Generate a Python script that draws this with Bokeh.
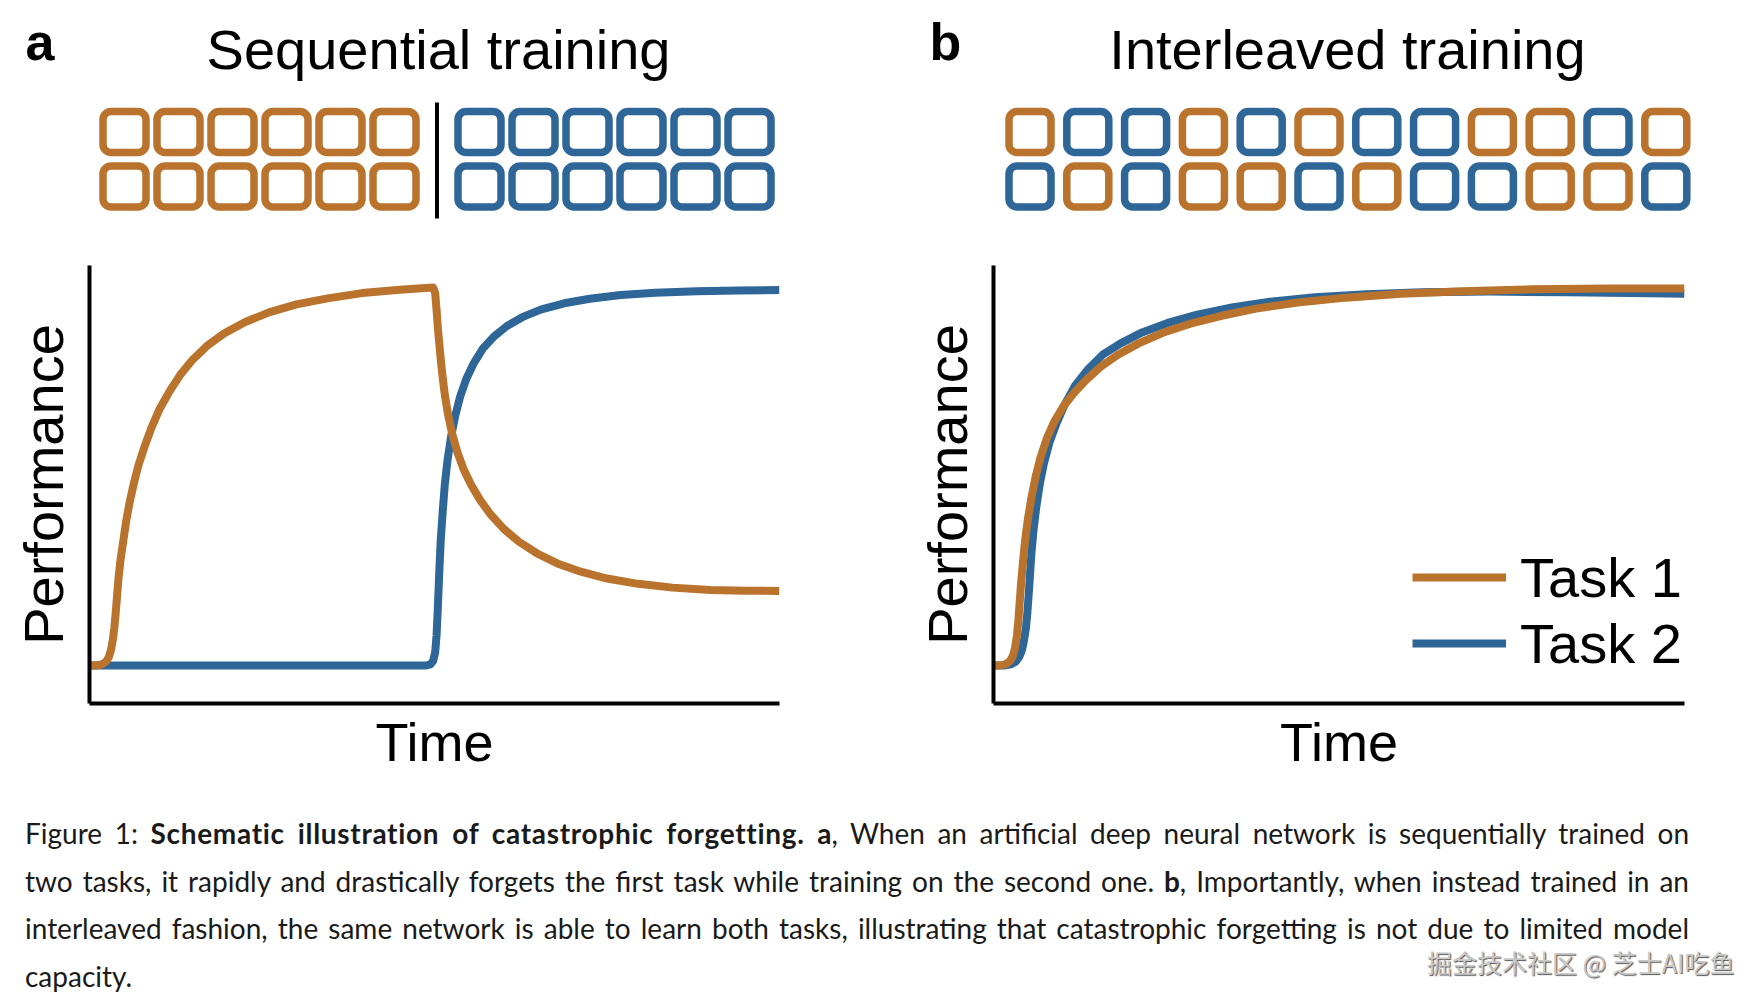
from bokeh.plotting import figure
from bokeh.models import Range1d, FixedTicker, Legend, LegendItem, Div
from bokeh.layouts import row, column
from bokeh.core.properties import value
from bokeh.embed import file_html
from bokeh.resources import INLINE

# ---------------- data ----------------
PANEL_LETTERS = ["a", "b"]
PANEL_TITLES = ["Sequential training", "Interleaved training"]
SERIES_NAMES = ["Task 1", "Task 2"]
X_LABEL = "Time"
Y_LABEL = "Performance"

# training schedules (1 = Task 1, 2 = Task 2), two rows of mini-batches
SEQ_ROW1 = [1, 1, 1, 1, 1, 1, 2, 2, 2, 2, 2, 2]
SEQ_ROW2 = [1, 1, 1, 1, 1, 1, 2, 2, 2, 2, 2, 2]
INT_ROW1 = [1, 2, 2, 1, 2, 1, 2, 2, 1, 1, 2, 1]
INT_ROW2 = [2, 1, 2, 1, 1, 2, 1, 2, 2, 1, 1, 2]

# sequential training curves (time 0..1, performance 0..1)
SEQ_T1_X = [0.000, 0.010, 0.018, 0.024, 0.028, 0.031, 0.034, 0.036, 0.038, 0.040, 0.042,
            0.045, 0.049, 0.053, 0.058, 0.064, 0.071, 0.080, 0.090, 0.102, 0.116, 0.132,
            0.150, 0.170, 0.195, 0.225, 0.260, 0.300, 0.345, 0.395, 0.450, 0.498,
            0.501, 0.503, 0.505, 0.508, 0.511, 0.515, 0.520, 0.526, 0.533, 0.542, 0.553,
            0.566, 0.581, 0.600, 0.622, 0.648, 0.678, 0.712, 0.750, 0.795, 0.845, 0.900,
            0.950, 1.000]
SEQ_T1_Y = [0.000, 0.000, 0.003, 0.010, 0.022, 0.040, 0.070, 0.100, 0.140, 0.185, 0.230,
            0.280, 0.330, 0.380, 0.430, 0.480, 0.530, 0.580, 0.630, 0.680, 0.725, 0.770,
            0.810, 0.845, 0.878, 0.908, 0.934, 0.955, 0.971, 0.985, 0.994, 1.000,
            0.985, 0.940, 0.890, 0.830, 0.775, 0.715, 0.660, 0.610, 0.565, 0.520, 0.478,
            0.438, 0.400, 0.362, 0.328, 0.297, 0.270, 0.248, 0.230, 0.216, 0.206, 0.200,
            0.198, 0.197]
SEQ_T2_X = [0.000, 0.488, 0.494, 0.498, 0.501, 0.503, 0.505, 0.507, 0.509, 0.512, 0.515,
            0.519, 0.524, 0.530, 0.537, 0.546, 0.557, 0.570, 0.586, 0.605, 0.628, 0.655,
            0.688, 0.725, 0.770, 0.820, 0.880, 0.940, 1.000]
SEQ_T2_Y = [0.000, 0.000, 0.003, 0.012, 0.035, 0.080, 0.160, 0.250, 0.330, 0.410, 0.480,
            0.545, 0.605, 0.660, 0.710, 0.758, 0.800, 0.838, 0.870, 0.898, 0.922, 0.942,
            0.958, 0.970, 0.980, 0.986, 0.990, 0.992, 0.993]

# interleaved training curves
INT_T1_X = [0.000, 0.010, 0.018, 0.024, 0.028, 0.031, 0.034, 0.036, 0.038, 0.040, 0.043,
            0.046, 0.050, 0.055, 0.061, 0.068, 0.077, 0.088, 0.101, 0.116, 0.134, 0.155,
            0.180, 0.210, 0.245, 0.285, 0.330, 0.380, 0.440, 0.510, 0.590, 0.680, 0.780,
            0.890, 1.000]
INT_T1_Y = [0.000, 0.000, 0.004, 0.012, 0.025, 0.045, 0.080, 0.120, 0.170, 0.220, 0.280,
            0.335, 0.390, 0.445, 0.500, 0.550, 0.600, 0.645, 0.685, 0.720, 0.755, 0.790,
            0.822, 0.852, 0.880, 0.904, 0.925, 0.944, 0.960, 0.973, 0.983, 0.990, 0.995,
            0.997, 0.997]
INT_T2_X = [0.000, 0.015, 0.025, 0.032, 0.037, 0.041, 0.044, 0.047, 0.049, 0.051, 0.053,
            0.055, 0.058, 0.062, 0.067, 0.073, 0.081, 0.091, 0.103, 0.118, 0.136, 0.158,
            0.184, 0.215, 0.252, 0.295, 0.345, 0.400, 0.465, 0.540, 0.620, 0.720, 0.830,
            0.920, 1.000]
INT_T2_Y = [0.000, 0.000, 0.003, 0.010, 0.022, 0.040, 0.065, 0.100, 0.140, 0.190, 0.245,
            0.300, 0.360, 0.420, 0.480, 0.535, 0.590, 0.640, 0.690, 0.740, 0.782, 0.822,
            0.852, 0.881, 0.906, 0.928, 0.947, 0.962, 0.974, 0.982, 0.987, 0.989, 0.987,
            0.985, 0.983]

CAPTION_LINES = [
    "Figure 1: <b>Schematic illustration of catastrophic forgetting.</b> <b>a</b>, When an artificial deep neural network is sequentially trained on",
    "two tasks, it rapidly and drastically forgets the first task while training on the second one. <b>b</b>, Importantly, when instead trained in an",
    "interleaved fashion, the same network is able to learn both tasks, illustrating that catastrophic forgetting is not due to limited model",
    "capacity.",
]
WATERMARK = "掘金技术社区 @ 芝士AI吃鱼"

# ---------------- style ----------------
ORANGE = "#B9732C"
BLUE = "#2E6698"
TASK_COLOR = {1: ORANGE, 2: BLUE}
FONT = "Liberation Sans"
HEADER_H = 240


def make_header(width, letter, title, letter_x, title_x, rows, x0, pitch, box_w, gap_after=None, gap=0):
    p = figure(width=width, height=HEADER_H, x_range=Range1d(0, width), y_range=Range1d(HEADER_H, 0),
               output_backend="svg", toolbar_location=None, tools="", min_border=0,
               x_axis_location=None, y_axis_location=None, frame_align=False)
    p.grid.visible = False
    p.outline_line_color = None
    p.background_fill_color = "white"
    p.border_fill_color = "white"

    p.text(x=[letter_x], y=[41], text=[letter], text_font=value(FONT), text_font_style="bold",
           text_font_size="52px", text_baseline="alphabetic", text_align="left", text_color="black")
    p.text(x=[title_x], y=[49], text=[title], text_font=value(FONT),
           text_font_size="56px", text_baseline="alphabetic", text_align="center", text_color="black")

    left, right, top, bottom, colors = [], [], [], [], []
    for r, seq in enumerate(rows):
        cy = 131.5 + 54.5 * r
        for c, task in enumerate(seq):
            cx = x0 + pitch * c + (gap if (gap_after is not None and c > gap_after) else 0)
            left.append(cx - box_w / 2)
            right.append(cx + box_w / 2)
            top.append(cy - 20.5)
            bottom.append(cy + 20.5)
            colors.append(TASK_COLOR[task])
    p.quad(left=left, right=right, top=top, bottom=bottom, fill_color="white",
           line_color=colors, line_width=7.5, border_radius=8)
    if gap_after is not None:
        xd = (right[gap_after] + left[gap_after + 1]) / 2
        p.segment(x0=[xd], y0=[102], x1=[xd], y1=[218], line_color="black", line_width=4)
    return p


def make_plot(t1x, t1y, t2x, t2y, border_left, frame_w, border_right, legend=False):
    p = figure(frame_width=frame_w, frame_height=438, min_border_left=border_left,
               min_border_right=border_right, min_border_top=25, min_border_bottom=105,
               x_range=Range1d(0, 1), y_range=Range1d(-0.1005, 1.058),
               output_backend="svg", toolbar_location=None, tools="", frame_align=False)
    p.grid.visible = False
    p.outline_line_color = None
    p.background_fill_color = "white"
    p.border_fill_color = "white"
    for ax, label, fs, standoff in ((p.xaxis[0], X_LABEL, "54px", 8), (p.yaxis[0], Y_LABEL, "56px", 15)):
        ax.ticker = FixedTicker(ticks=[])
        ax.axis_line_width = 4
        ax.axis_line_color = "black"
        ax.major_tick_line_color = None
        ax.minor_tick_line_color = None
        ax.major_tick_out = 0
        ax.major_tick_in = 0
        ax.major_label_standoff = 0
        ax.axis_label = label
        ax.axis_label_text_font = FONT
        ax.axis_label_text_font_style = "normal"
        ax.axis_label_text_font_size = fs
        ax.axis_label_text_color = "black"
        ax.axis_label_standoff = standoff
    r2 = p.line(t2x, t2y, line_color=BLUE, line_width=8, line_join="round")
    r1 = p.line(t1x, t1y, line_color=ORANGE, line_width=8, line_join="round")
    if legend:
        lg = Legend(items=[LegendItem(label=SERIES_NAMES[0], renderers=[r1]),
                           LegendItem(label=SERIES_NAMES[1], renderers=[r2])],
                    location=(419, 27), padding=0, margin=0, spacing=0,
                    glyph_width=94, glyph_height=66, label_height=66, label_standoff=14,
                    label_text_font=FONT, label_text_font_size="56px", label_text_color="black",
                    background_fill_alpha=0, border_line_alpha=0)
        p.add_layout(lg)
    return p


head_a = make_header(880, PANEL_LETTERS[0], PANEL_TITLES[0], 25, 438,
                     [SEQ_ROW1, SEQ_ROW2], 124, 54, 43, gap_after=5, gap=31)
head_b = make_header(874, PANEL_LETTERS[1], PANEL_TITLES[1], 49, 467,
                     [INT_ROW1, INT_ROW2], 149.5, 57.8, 42)
plot_a = make_plot(SEQ_T1_X, SEQ_T1_Y, SEQ_T2_X, SEQ_T2_Y, 89, 690, 101)
plot_b = make_plot(INT_T1_X, INT_T1_Y, INT_T2_X, INT_T2_Y, 113, 691, 70, legend=True)

lines_html = ""
for i, ln in enumerate(CAPTION_LINES):
    last = i == len(CAPTION_LINES) - 1
    align = "left" if last else "justify"
    ln = ln.replace("<b>Schematic", '<b style="letter-spacing:0.7px">Schematic')
    lines_html += (f'<div style="text-align:{align};text-align-last:{align};white-space:nowrap;">{ln}</div>')

caption_html = (
    '<div style="position:relative;width:1754px;height:192px;overflow:hidden;">'
    '<div style="position:absolute;left:25px;top:2px;width:1664px;font-family:Lato;'
    'font-size:28px;line-height:47.5px;color:#1a1a1a;">' + lines_html + '</div>'
    '<div style="position:absolute;left:1427px;top:139px;font-family:\'Noto Sans CJK SC\';'
    'font-size:25px;line-height:30px;color:#c8c8c8;text-shadow:1px 1px 1px #555;white-space:nowrap;">'
    + WATERMARK + '</div></div>'
)
caption = Div(text=caption_html, width=1754, height=192, margin=(0, 0, 0, 0))

layout = column(row(column(head_a, plot_a), column(head_b, plot_b)), caption)
open("out.html", "w").write(file_html(layout, INLINE))
